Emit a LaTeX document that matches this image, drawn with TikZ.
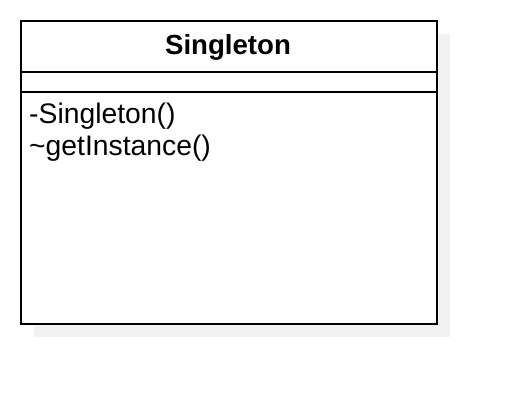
\documentclass[tikz,border=0pt]{standalone}
\usepackage{fontspec}
\setmainfont{Liberation Sans}
\definecolor{shadowgray}{HTML}{F2F2F2}
\tikzset{
  umlbox/.style={draw=black, line width=2pt, fill=white, inner sep=0pt, minimum width=416pt, minimum height=303pt, anchor=north west},
  shadowbox/.style={fill=shadowgray, inner sep=0pt, minimum width=416pt, minimum height=303pt, anchor=north west},
  divider/.style={line width=2pt},
  txt/.style={inner sep=0pt, font=\fontsize{28.3}{32}\selectfont}
}
\begin{document}
\begin{tikzpicture}[x=1pt,y=-1pt]
\useasboundingbox (0,0) rectangle (516,404);
\node[shadowbox] (shadow) at (34,34) {};
\node[umlbox] (box) at (20,20) {};
\draw[divider] (20,72) coordinate (d1l) -- (436,72) coordinate (d1r);
\draw[divider] (20,92) coordinate (d2l) -- (436,92) coordinate (d2r);
\node[txt, font=\fontsize{27.6}{32}\selectfont\bfseries, anchor=base] (title) at (228,55) {Singleton};
\node[txt, anchor=base west] (m1) at (29,123) {-Singleton()};
\node[txt, anchor=base west] (m2) at (29,155) {\char`\~getInstance()};
\end{tikzpicture}
\end{document}
